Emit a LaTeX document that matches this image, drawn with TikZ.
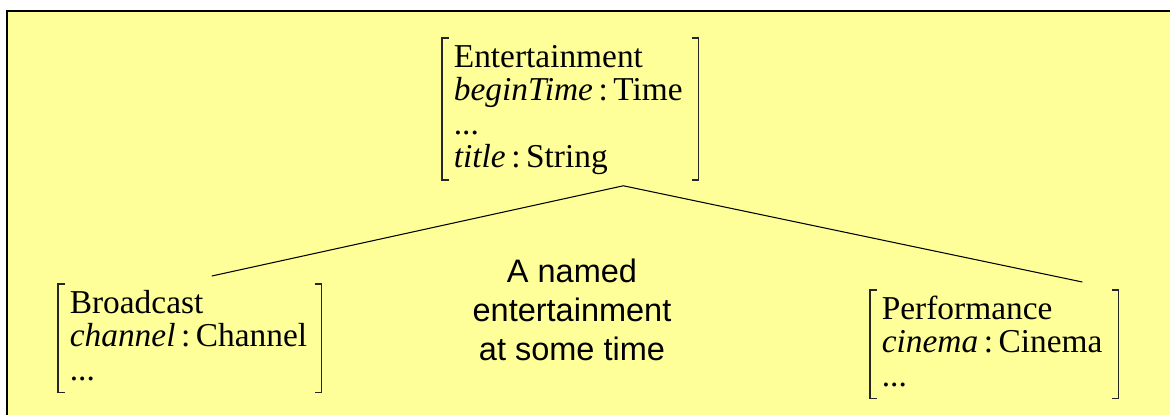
\documentclass[tikz,border=0pt]{standalone}
\usepackage{fontspec}
\setmainfont{Liberation Serif}
\newfontfamily\notefont{Liberation Sans}
\usetikzlibrary{calc}

\definecolor{paper}{RGB}{255,255,153}

% struts so the brackets sit the same way round every record
\newcommand\upstrut{\rule{0pt}{16.5pt}}
\newcommand\downstrut{\rule[-6.8pt]{0pt}{6.8pt}}
\newcommand\attr[2]{\textit{#1}\,:\,#2}

\tikzset{
  record/.style={anchor=north west, align=left, inner xsep=0.23cm, inner ysep=0pt,
    font=\fontsize{19}{19}\selectfont},
  bracket/.style={line width=0.9pt, black!85},
  link/.style={line width=0.6pt},
}

% square brackets round a record node
\newcommand\brackets[1]{%
  \draw[bracket] ([xshift=0.14cm]#1.north west) -- (#1.north west)
    -- (#1.south west) -- ([xshift=0.14cm]#1.south west);
  \draw[bracket] ([xshift=-0.14cm]#1.north east) -- (#1.north east)
    -- (#1.south east) -- ([xshift=-0.14cm]#1.south east);}

\begin{document}
\begin{tikzpicture}[x=0.02cm, y=-0.02cm]
    \path[use as bounding box, clip] (0,0) rectangle (1170,415);
    \draw[fill=paper, line width=1pt] (7,11) rectangle (1190,430);

    \node[record, text width=4.66cm] (ent) at (442,38)
      {\upstrut Entertainment\\ \attr{beginTime}{Time}\\ ...\\ \attr{title}{String}\downstrut};
    \node[record, text width=4.8cm] (bc) at (58,284)
      {\upstrut Broadcast\\ \attr{channel}{Channel}\\ ...\downstrut};
    \node[record, text width=4.5cm] (pf) at (870,290)
      {\upstrut Performance\\ \attr{cinema}{Cinema}\\ ...\downstrut};
    \brackets{ent}
    \brackets{bc}
    \brackets{pf}

    \node[anchor=north, align=center, inner sep=0pt,
      font=\notefont\fontsize{18.5}{22}\selectfont] (note) at (572,259)
      {A named\\ entertainment\\ at some time};

    \coordinate (apex) at ($(ent.south)+(53,6)$);
    \draw[link] ($(bc.north)+(22,-8)$) -- (apex) -- ($(pf.north)+(88,-8)$);
\end{tikzpicture}
\end{document}
